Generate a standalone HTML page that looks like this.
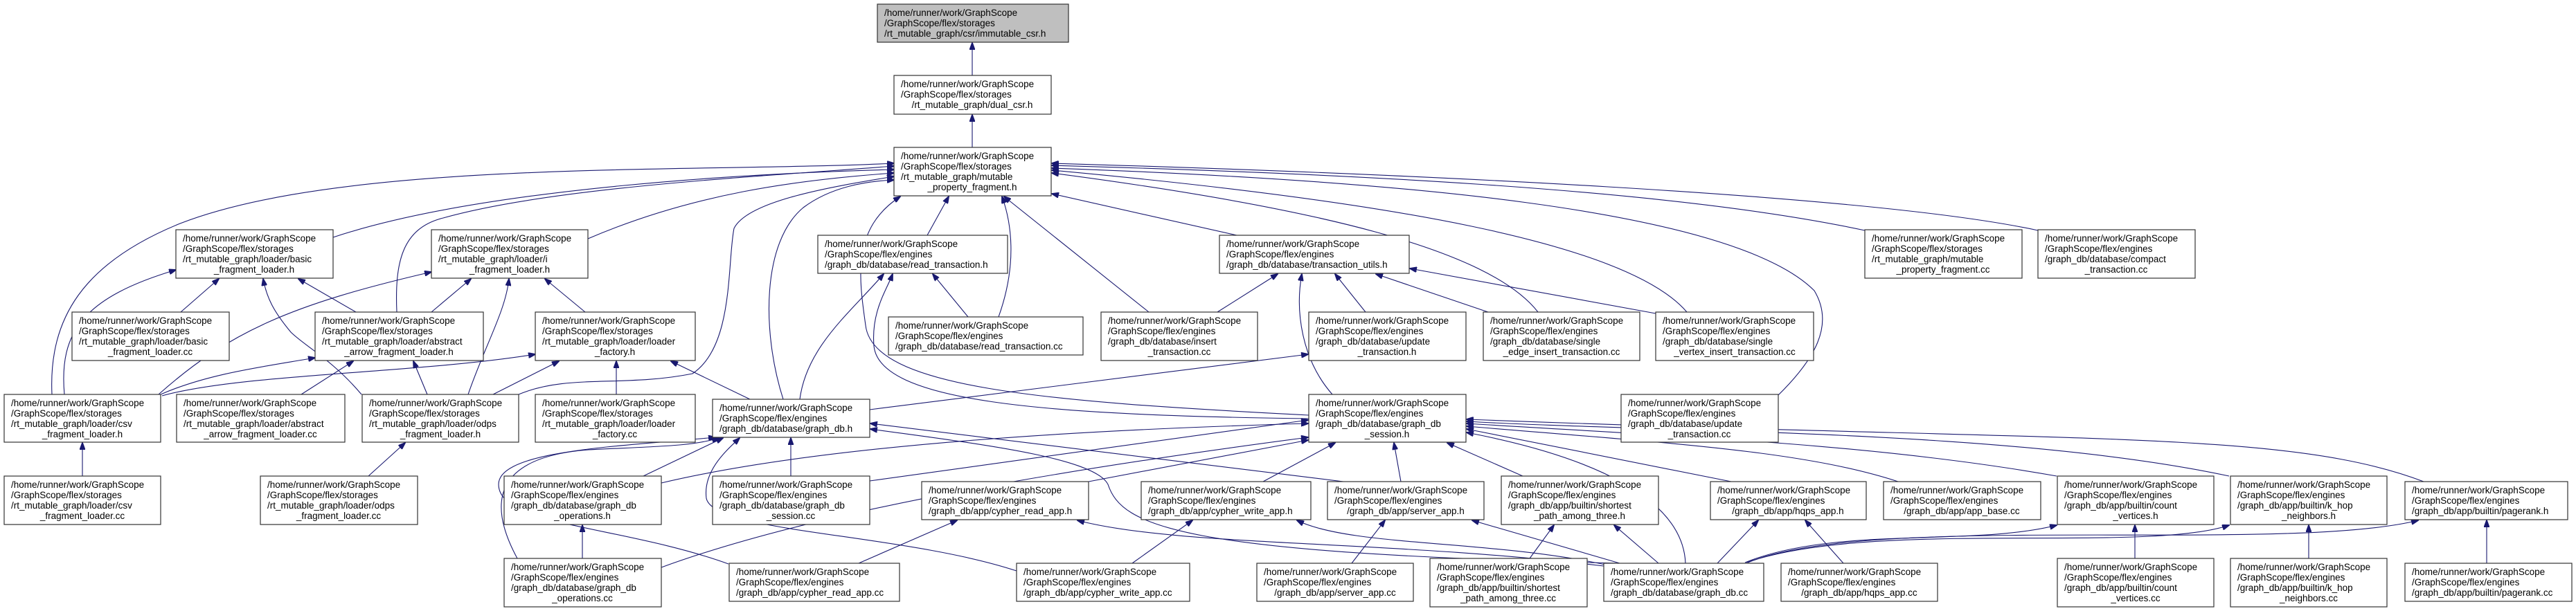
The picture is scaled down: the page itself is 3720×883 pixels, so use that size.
<!DOCTYPE html>
<html><head><meta charset="utf-8"><style>
html,body{margin:0;padding:0;background:#fff}
svg{display:block}
text{font-family:"Liberation Sans",sans-serif;font-size:13.5px;fill:#000}
.m{text-anchor:middle}
rect{fill:#fff;stroke:#333;stroke-width:1.2}
path{fill:none;stroke:#191970;stroke-width:1.1}
</style></head><body>
<svg width="3720" height="883" viewBox="0 0 3720 883" xmlns="http://www.w3.org/2000/svg">
<defs><marker id="a" markerWidth="11" markerHeight="8" refX="10" refY="4" orient="auto" markerUnits="userSpaceOnUse"><path d="M0,0 L11,4 L0,8 z" style="fill:#191970;stroke:#191970"/></marker></defs>
<g marker-end="url(#a)">
<path d="M1404,109 L1404,62"/>
<path d="M1404,213 L1404,166"/>
<path d="M75,570 C70,460 120,380 260,323 C500,230 1000,250 1291,236"/>
<path d="M573,451 C570,380 580,330 640,315 C800,270 1100,255 1291,240"/>
<path d="M481,343 C700,270 1100,250 1291,245"/>
<path d="M849,345 C1000,280 1150,260 1291,250"/>
<path d="M749,570 C820,540 900,560 1000,540 C1060,500 1050,380 1060,330 C1080,290 1200,270 1291,255"/>
<path d="M1131,577 C1100,480 1100,350 1160,300 C1200,270 1250,262 1291,260"/>
<path d="M1890,600 C1500,580 1260,560 1250,470 C1240,400 1230,330 1300,284"/>
<path d="M1890,605 C1500,600 1270,580 1262,500 C1258,450 1280,420 1289,396"/>
<path d="M1155,577 C1165,500 1230,450 1276,396"/>
<path d="M1398,458 L1347,396"/>
<path d="M1339,340 L1370,284"/>
<path d="M1442,458 C1470,380 1460,320 1447,284"/>
<path d="M1659,451 L1450,284"/>
<path d="M1758,451 L1845,396"/>
<path d="M1786,340 L1519,280"/>
<path d="M1924,570 C1880,520 1870,450 1880,396"/>
<path d="M1972,451 L1928,396"/>
<path d="M2149,451 L1987,396"/>
<path d="M2391,453 L2036,388"/>
<path d="M2221,451 C2150,360 1900,300 1519,250"/>
<path d="M2436,451 C2350,350 2000,290 1519,246"/>
<path d="M2567,572 C2620,520 2650,470 2620,420 C2500,300 2000,260 1519,243"/>
<path d="M2693,333 C2400,270 1900,250 1519,239"/>
<path d="M2943,333 C2700,280 2000,250 1519,236"/>
<path d="M261,451 L316,403"/>
<path d="M522,570 C480,520 440,500 420,480 C395,450 385,430 380,403"/>
<path d="M514,451 L431,403"/>
<path d="M93,570 C85,480 120,430 254,390"/>
<path d="M623,451 L680,403"/>
<path d="M676,570 C700,500 730,450 735,403"/>
<path d="M845,451 L787,403"/>
<path d="M229,570 C330,480 420,440 623,393"/>
<path d="M435,570 L510,522"/>
<path d="M617,570 L597,522"/>
<path d="M232,570 C300,540 380,530 455,517"/>
<path d="M234,572 C350,540 600,540 773,512"/>
<path d="M712,570 L807,522"/>
<path d="M890,570 L890,522"/>
<path d="M1083,577 L969,522"/>
<path d="M119,688 L119,640"/>
<path d="M532,688 L585,640"/>
<path d="M841,807 L841,759"/>
<path d="M929,688 L1044,633"/>
<path d="M747,807 C700,720 720,660 850,650 C950,645 1000,645 1038,633"/>
<path d="M1052,815 C900,760 720,760 720,700 C720,650 900,645 1033,632"/>
<path d="M1142,688 L1142,633"/>
<path d="M1468,825 C1300,770 1030,770 1020,720 C1015,680 1050,650 1068,633"/>
<path d="M1940,696 L1257,612"/>
<path d="M2339,814 C1700,800 1620,760 1600,700 C1580,660 1400,640 1257,620"/>
<path d="M1256,592 L1889,512"/>
<path d="M1256,695 L1889,607"/>
<path d="M955,698 C1200,640 1600,620 1889,612"/>
<path d="M955,820 C1200,730 1600,670 1889,632"/>
<path d="M1572,696 L1889,636"/>
<path d="M1824,696 L1928,640"/>
<path d="M2023,696 L2013,640"/>
<path d="M2199,688 L2090,640"/>
<path d="M2434,814 C2430,720 2300,660 2118,625"/>
<path d="M2500,696 L2118,620"/>
<path d="M2741,696 C2600,650 2400,640 2118,616"/>
<path d="M2970,688 C2700,640 2400,630 2118,612"/>
<path d="M3219,688 C2900,620 2400,625 2118,609"/>
<path d="M3500,696 C3300,620 3000,640 2118,606"/>
<path d="M1240,814 L1382,752"/>
<path d="M2316,818 C2000,780 1700,790 1556,752"/>
<path d="M1635,814 L1722,752"/>
<path d="M2318,816 C2150,780 1950,790 1873,752"/>
<path d="M1952,814 L2000,752"/>
<path d="M2339,814 L2126,752"/>
<path d="M2209,807 L2244,759"/>
<path d="M2395,814 L2331,759"/>
<path d="M2662,814 L2607,752"/>
<path d="M2480,814 L2539,752"/>
<path d="M2520,813 C2650,760 2850,790 2970,759"/>
<path d="M2522,813 C2700,750 3100,800 3219,759"/>
<path d="M2524,813 C2700,740 3300,800 3492,752"/>
<path d="M3083,807 L3083,759"/>
<path d="M3334,807 L3334,759"/>
<path d="M3591,814 L3591,752"/>
</g>

<g transform="translate(1267,6)"><rect width="276" height="55" style="fill:#bfbfbf"/><text x="10" y="17">/home/runner/work/GraphScope</text><text x="10" y="32">/GraphScope/flex/storages</text><text x="10" y="47">/rt_mutable_graph/csr/immutable_csr.h</text></g>
<g transform="translate(1291,109)"><rect width="227" height="56"/><text x="10" y="17">/home/runner/work/GraphScope</text><text x="10" y="32">/GraphScope/flex/storages</text><text class="m" x="113" y="47">/rt_mutable_graph/dual_csr.h</text></g>
<g transform="translate(1291,213)"><rect width="227" height="70"/><text x="10" y="17">/home/runner/work/GraphScope</text><text x="10" y="32">/GraphScope/flex/storages</text><text x="10" y="47">/rt_mutable_graph/mutable</text><text class="m" x="113" y="62">_property_fragment.h</text></g>
<g transform="translate(254,332)"><rect width="227" height="70"/><text x="10" y="17">/home/runner/work/GraphScope</text><text x="10" y="32">/GraphScope/flex/storages</text><text x="10" y="47">/rt_mutable_graph/loader/basic</text><text class="m" x="113" y="62">_fragment_loader.h</text></g>
<g transform="translate(623,332)"><rect width="226" height="70"/><text x="10" y="17">/home/runner/work/GraphScope</text><text x="10" y="32">/GraphScope/flex/storages</text><text x="10" y="47">/rt_mutable_graph/loader/i</text><text class="m" x="113" y="62">_fragment_loader.h</text></g>
<g transform="translate(1181,340)"><rect width="274" height="55"/><text x="10" y="17">/home/runner/work/GraphScope</text><text x="10" y="32">/GraphScope/flex/engines</text><text x="10" y="47">/graph_db/database/read_transaction.h</text></g>
<g transform="translate(1761,340)"><rect width="274" height="55"/><text x="10" y="17">/home/runner/work/GraphScope</text><text x="10" y="32">/GraphScope/flex/engines</text><text x="10" y="47">/graph_db/database/transaction_utils.h</text></g>
<g transform="translate(2693,332)"><rect width="227" height="70"/><text x="10" y="17">/home/runner/work/GraphScope</text><text x="10" y="32">/GraphScope/flex/storages</text><text x="10" y="47">/rt_mutable_graph/mutable</text><text class="m" x="113" y="62">_property_fragment.cc</text></g>
<g transform="translate(2943,332)"><rect width="227" height="70"/><text x="10" y="17">/home/runner/work/GraphScope</text><text x="10" y="32">/GraphScope/flex/engines</text><text x="10" y="47">/graph_db/database/compact</text><text class="m" x="113" y="62">_transaction.cc</text></g>
<g transform="translate(104,451)"><rect width="227" height="70"/><text x="10" y="17">/home/runner/work/GraphScope</text><text x="10" y="32">/GraphScope/flex/storages</text><text x="10" y="47">/rt_mutable_graph/loader/basic</text><text class="m" x="113" y="62">_fragment_loader.cc</text></g>
<g transform="translate(455,451)"><rect width="243" height="70"/><text x="10" y="17">/home/runner/work/GraphScope</text><text x="10" y="32">/GraphScope/flex/storages</text><text x="10" y="47">/rt_mutable_graph/loader/abstract</text><text class="m" x="121" y="62">_arrow_fragment_loader.h</text></g>
<g transform="translate(773,451)"><rect width="231" height="70"/><text x="10" y="17">/home/runner/work/GraphScope</text><text x="10" y="32">/GraphScope/flex/storages</text><text x="10" y="47">/rt_mutable_graph/loader/loader</text><text class="m" x="115" y="62">_factory.h</text></g>
<g transform="translate(1283,458)"><rect width="281" height="55"/><text x="10" y="17">/home/runner/work/GraphScope</text><text x="10" y="32">/GraphScope/flex/engines</text><text x="10" y="47">/graph_db/database/read_transaction.cc</text></g>
<g transform="translate(1590,451)"><rect width="226" height="70"/><text x="10" y="17">/home/runner/work/GraphScope</text><text x="10" y="32">/GraphScope/flex/engines</text><text x="10" y="47">/graph_db/database/insert</text><text class="m" x="113" y="62">_transaction.cc</text></g>
<g transform="translate(1890,451)"><rect width="227" height="70"/><text x="10" y="17">/home/runner/work/GraphScope</text><text x="10" y="32">/GraphScope/flex/engines</text><text x="10" y="47">/graph_db/database/update</text><text class="m" x="113" y="62">_transaction.h</text></g>
<g transform="translate(2142,451)"><rect width="226" height="70"/><text x="10" y="17">/home/runner/work/GraphScope</text><text x="10" y="32">/GraphScope/flex/engines</text><text x="10" y="47">/graph_db/database/single</text><text class="m" x="113" y="62">_edge_insert_transaction.cc</text></g>
<g transform="translate(2391,451)"><rect width="228" height="70"/><text x="10" y="17">/home/runner/work/GraphScope</text><text x="10" y="32">/GraphScope/flex/engines</text><text x="10" y="47">/graph_db/database/single</text><text class="m" x="114" y="62">_vertex_insert_transaction.cc</text></g>
<g transform="translate(6,570)"><rect width="226" height="69"/><text x="10" y="17">/home/runner/work/GraphScope</text><text x="10" y="32">/GraphScope/flex/storages</text><text x="10" y="47">/rt_mutable_graph/loader/csv</text><text class="m" x="113" y="62">_fragment_loader.h</text></g>
<g transform="translate(255,570)"><rect width="243" height="69"/><text x="10" y="17">/home/runner/work/GraphScope</text><text x="10" y="32">/GraphScope/flex/storages</text><text x="10" y="47">/rt_mutable_graph/loader/abstract</text><text class="m" x="121" y="62">_arrow_fragment_loader.cc</text></g>
<g transform="translate(523,570)"><rect width="226" height="69"/><text x="10" y="17">/home/runner/work/GraphScope</text><text x="10" y="32">/GraphScope/flex/storages</text><text x="10" y="47">/rt_mutable_graph/loader/odps</text><text class="m" x="113" y="62">_fragment_loader.h</text></g>
<g transform="translate(773,570)"><rect width="231" height="69"/><text x="10" y="17">/home/runner/work/GraphScope</text><text x="10" y="32">/GraphScope/flex/storages</text><text x="10" y="47">/rt_mutable_graph/loader/loader</text><text class="m" x="115" y="62">_factory.cc</text></g>
<g transform="translate(1029,577)"><rect width="227" height="55"/><text x="10" y="17">/home/runner/work/GraphScope</text><text x="10" y="32">/GraphScope/flex/engines</text><text x="10" y="47">/graph_db/database/graph_db.h</text></g>
<g transform="translate(1890,570)"><rect width="227" height="69"/><text x="10" y="17">/home/runner/work/GraphScope</text><text x="10" y="32">/GraphScope/flex/engines</text><text x="10" y="47">/graph_db/database/graph_db</text><text class="m" x="113" y="62">_session.h</text></g>
<g transform="translate(2341,570)"><rect width="227" height="69"/><text x="10" y="17">/home/runner/work/GraphScope</text><text x="10" y="32">/GraphScope/flex/engines</text><text x="10" y="47">/graph_db/database/update</text><text class="m" x="113" y="62">_transaction.cc</text></g>
<g transform="translate(6,688)"><rect width="226" height="70"/><text x="10" y="17">/home/runner/work/GraphScope</text><text x="10" y="32">/GraphScope/flex/storages</text><text x="10" y="47">/rt_mutable_graph/loader/csv</text><text class="m" x="113" y="62">_fragment_loader.cc</text></g>
<g transform="translate(376,688)"><rect width="227" height="70"/><text x="10" y="17">/home/runner/work/GraphScope</text><text x="10" y="32">/GraphScope/flex/storages</text><text x="10" y="47">/rt_mutable_graph/loader/odps</text><text class="m" x="113" y="62">_fragment_loader.cc</text></g>
<g transform="translate(728,688)"><rect width="227" height="70"/><text x="10" y="17">/home/runner/work/GraphScope</text><text x="10" y="32">/GraphScope/flex/engines</text><text x="10" y="47">/graph_db/database/graph_db</text><text class="m" x="113" y="62">_operations.h</text></g>
<g transform="translate(1029,688)"><rect width="227" height="70"/><text x="10" y="17">/home/runner/work/GraphScope</text><text x="10" y="32">/GraphScope/flex/engines</text><text x="10" y="47">/graph_db/database/graph_db</text><text class="m" x="113" y="62">_session.cc</text></g>
<g transform="translate(1331,696)"><rect width="241" height="55"/><text x="10" y="17">/home/runner/work/GraphScope</text><text x="10" y="32">/GraphScope/flex/engines</text><text x="10" y="47">/graph_db/app/cypher_read_app.h</text></g>
<g transform="translate(1648,696)"><rect width="245" height="55"/><text x="10" y="17">/home/runner/work/GraphScope</text><text x="10" y="32">/GraphScope/flex/engines</text><text x="10" y="47">/graph_db/app/cypher_write_app.h</text></g>
<g transform="translate(1917,696)"><rect width="226" height="55"/><text x="10" y="17">/home/runner/work/GraphScope</text><text x="10" y="32">/GraphScope/flex/engines</text><text class="m" x="113" y="47">/graph_db/app/server_app.h</text></g>
<g transform="translate(2168,688)"><rect width="227" height="70"/><text x="10" y="17">/home/runner/work/GraphScope</text><text x="10" y="32">/GraphScope/flex/engines</text><text x="10" y="47">/graph_db/app/builtin/shortest</text><text class="m" x="113" y="62">_path_among_three.h</text></g>
<g transform="translate(2470,696)"><rect width="225" height="55"/><text x="10" y="17">/home/runner/work/GraphScope</text><text x="10" y="32">/GraphScope/flex/engines</text><text class="m" x="112" y="47">/graph_db/app/hqps_app.h</text></g>
<g transform="translate(2720,696)"><rect width="227" height="55"/><text x="10" y="17">/home/runner/work/GraphScope</text><text x="10" y="32">/GraphScope/flex/engines</text><text class="m" x="113" y="47">/graph_db/app/app_base.cc</text></g>
<g transform="translate(2971,688)"><rect width="226" height="70"/><text x="10" y="17">/home/runner/work/GraphScope</text><text x="10" y="32">/GraphScope/flex/engines</text><text x="10" y="47">/graph_db/app/builtin/count</text><text class="m" x="113" y="62">_vertices.h</text></g>
<g transform="translate(3221,688)"><rect width="226" height="70"/><text x="10" y="17">/home/runner/work/GraphScope</text><text x="10" y="32">/GraphScope/flex/engines</text><text x="10" y="47">/graph_db/app/builtin/k_hop</text><text class="m" x="113" y="62">_neighbors.h</text></g>
<g transform="translate(3473,696)"><rect width="235" height="55"/><text x="10" y="17">/home/runner/work/GraphScope</text><text x="10" y="32">/GraphScope/flex/engines</text><text x="10" y="47">/graph_db/app/builtin/pagerank.h</text></g>
<g transform="translate(728,807)"><rect width="227" height="70"/><text x="10" y="17">/home/runner/work/GraphScope</text><text x="10" y="32">/GraphScope/flex/engines</text><text x="10" y="47">/graph_db/database/graph_db</text><text class="m" x="113" y="62">_operations.cc</text></g>
<g transform="translate(1053,814)"><rect width="246" height="55"/><text x="10" y="17">/home/runner/work/GraphScope</text><text x="10" y="32">/GraphScope/flex/engines</text><text x="10" y="47">/graph_db/app/cypher_read_app.cc</text></g>
<g transform="translate(1468,814)"><rect width="250" height="55"/><text x="10" y="17">/home/runner/work/GraphScope</text><text x="10" y="32">/GraphScope/flex/engines</text><text x="10" y="47">/graph_db/app/cypher_write_app.cc</text></g>
<g transform="translate(1815,814)"><rect width="226" height="55"/><text x="10" y="17">/home/runner/work/GraphScope</text><text x="10" y="32">/GraphScope/flex/engines</text><text class="m" x="113" y="47">/graph_db/app/server_app.cc</text></g>
<g transform="translate(2065,807)"><rect width="227" height="70"/><text x="10" y="17">/home/runner/work/GraphScope</text><text x="10" y="32">/GraphScope/flex/engines</text><text x="10" y="47">/graph_db/app/builtin/shortest</text><text class="m" x="113" y="62">_path_among_three.cc</text></g>
<g transform="translate(2316,814)"><rect width="231" height="55"/><text x="10" y="17">/home/runner/work/GraphScope</text><text x="10" y="32">/GraphScope/flex/engines</text><text x="10" y="47">/graph_db/database/graph_db.cc</text></g>
<g transform="translate(2572,814)"><rect width="226" height="55"/><text x="10" y="17">/home/runner/work/GraphScope</text><text x="10" y="32">/GraphScope/flex/engines</text><text class="m" x="113" y="47">/graph_db/app/hqps_app.cc</text></g>
<g transform="translate(2971,807)"><rect width="226" height="70"/><text x="10" y="17">/home/runner/work/GraphScope</text><text x="10" y="32">/GraphScope/flex/engines</text><text x="10" y="47">/graph_db/app/builtin/count</text><text class="m" x="113" y="62">_vertices.cc</text></g>
<g transform="translate(3221,807)"><rect width="226" height="70"/><text x="10" y="17">/home/runner/work/GraphScope</text><text x="10" y="32">/GraphScope/flex/engines</text><text x="10" y="47">/graph_db/app/builtin/k_hop</text><text class="m" x="113" y="62">_neighbors.cc</text></g>
<g transform="translate(3473,814)"><rect width="241" height="55"/><text x="10" y="17">/home/runner/work/GraphScope</text><text x="10" y="32">/GraphScope/flex/engines</text><text x="10" y="47">/graph_db/app/builtin/pagerank.cc</text></g>
</svg>
</body></html>
